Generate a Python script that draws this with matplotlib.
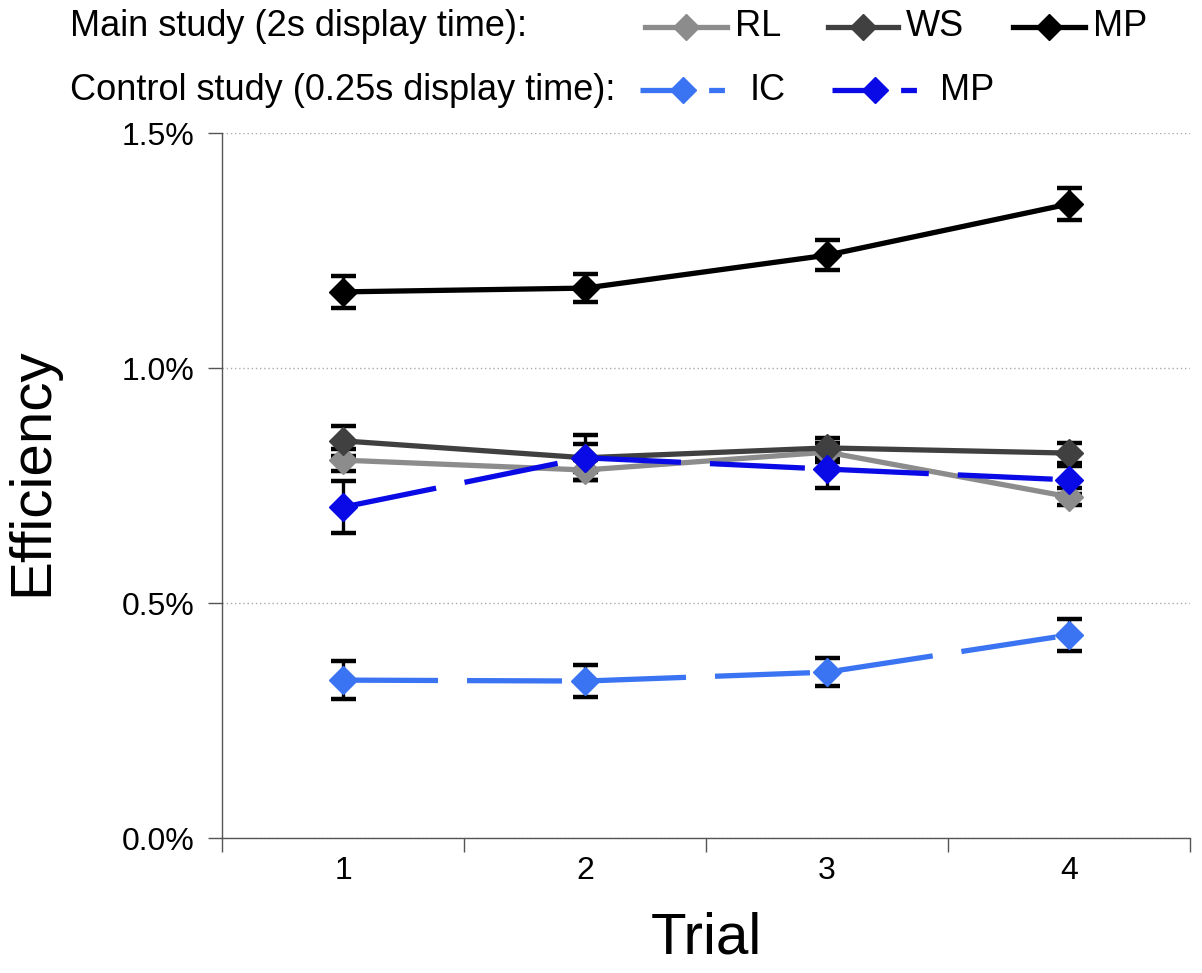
import matplotlib
matplotlib.use("Agg")
import matplotlib.pyplot as plt
from matplotlib.lines import Line2D
from matplotlib.ticker import FuncFormatter, FixedLocator

plt.rcParams['font.family'] = ['Liberation Sans', 'DejaVu Sans']

trials = [1, 2, 3, 4]

# efficiency in percent, with standard errors
rl = [0.804, 0.783, 0.821, 0.726]
rl_err = [0.024, 0.022, 0.020, 0.018]
ws = [0.845, 0.809, 0.830, 0.819]
ws_err = [0.032, 0.030, 0.022, 0.022]
mp_main = [1.162, 1.170, 1.240, 1.349]
mp_main_err = [0.034, 0.030, 0.032, 0.034]
ic = [0.336, 0.334, 0.353, 0.432]
ic_err = [0.040, 0.034, 0.030, 0.034]
mp_ctrl = [0.704, 0.809, 0.785, 0.762]
mp_ctrl_err = [0.055, 0.048, 0.040, 0.030]

c_rl = '#8c8c8c'
c_ws = '#404040'
c_mp = '#000000'
c_ic = '#3b74f2'
c_mpc = '#0a0ae6'

fig = plt.figure(figsize=(12.02, 9.73), dpi=100)
ax = fig.add_axes([0.1847, 0.1387, 0.8053, 0.7246])

dash = (0, (18, 5.5))
series = [
    (rl, rl_err, c_rl, '-'),
    (ws, ws_err, c_ws, '-'),
    (mp_main, mp_main_err, c_mp, '-'),
    (ic, ic_err, c_ic, dash),
    (mp_ctrl, mp_ctrl_err, c_mpc, dash),
]
for vals, err, col, ls in series:
    ax.errorbar(trials, vals, yerr=err, fmt='none', ecolor='black',
                elinewidth=2.4, capsize=9, capthick=3.2, zorder=2)
for vals, err, col, ls in series:
    ax.plot(trials, vals, color=col, linestyle=ls, linewidth=3.8,
            marker='D', markersize=14, markerfacecolor=col,
            markeredgecolor=col, zorder=3)

ax.set_xlim(0.5, 4.5)
ax.set_ylim(0, 1.5)
ax.set_yticks([0, 0.5, 1.0, 1.5])
ax.yaxis.set_major_formatter(FuncFormatter(lambda v, p: f'{v:.1f}%'))
ax.grid(axis='y', linestyle=(0, (1, 2)), color='#aaaaaa', linewidth=1)
ax.set_axisbelow(True)

# category boundaries carry the tick marks, labels sit in between
ax.xaxis.set_major_locator(FixedLocator([0.5, 1.5, 2.5, 3.5, 4.5]))
ax.xaxis.set_minor_locator(FixedLocator(trials))
ax.xaxis.set_major_formatter(FuncFormatter(lambda v, p: ''))
ax.xaxis.set_minor_formatter(FuncFormatter(lambda v, p: f'{int(v)}'))
ax.tick_params(axis='x', which='major', length=10, width=1, color='#555555')
ax.tick_params(axis='x', which='minor', length=0, labelsize=23, pad=13)
ax.tick_params(axis='y', length=10, width=1, color='#555555', labelsize=23, pad=10)

for s in ['top', 'right']:
    ax.spines[s].set_visible(False)
for s in ['left', 'bottom']:
    ax.spines[s].set_color('#555555')
    ax.spines[s].set_linewidth(1)

ax.set_ylabel('Efficiency', fontsize=42)
ax.set_xlabel('Trial', fontsize=42, labelpad=18)
ax.yaxis.set_label_coords(-0.168, 0.52)

# legend drawn as two labelled rows above the plot
def px(x, y):
    return x / 1202, 1 - y / 973

fig.text(*px(70, 27), 'Main study (2s display time):', fontsize=26, va='center')
fig.text(*px(70, 90), 'Control study (0.25s display time):', fontsize=26, va='center')

legend_rows = [
    (645, 727, 27, c_rl, '-', 'RL'),
    (828, 898, 27, c_ws, '-', 'WS'),
    (1013, 1085, 27, c_mp, '-', 'MP'),
    (640, 742, 90, c_ic, (0, (9, 4, 3, 10)), 'IC'),
    (832, 932, 90, c_mpc, (0, (9, 4, 3, 10)), 'MP'),
]
for x0, x1, y, col, ls, lab in legend_rows:
    xa, ya = px(x0, y)
    xb, _ = px(x1, y)
    fig.add_artist(Line2D([xa, xb], [ya, ya], color=col, linewidth=3.8,
                          linestyle=ls, transform=fig.transFigure))
    xm = (xa + xb) / 2 if ls == '-' else px(x0 + 43, y)[0]
    fig.add_artist(Line2D([xm], [ya], marker='D', markersize=13, color=col,
                          linestyle='none', transform=fig.transFigure))
    fig.text(px(x1 + 8, y)[0], ya, lab, fontsize=26, va='center')

fig.savefig('out.png', dpi=100, facecolor='white')
